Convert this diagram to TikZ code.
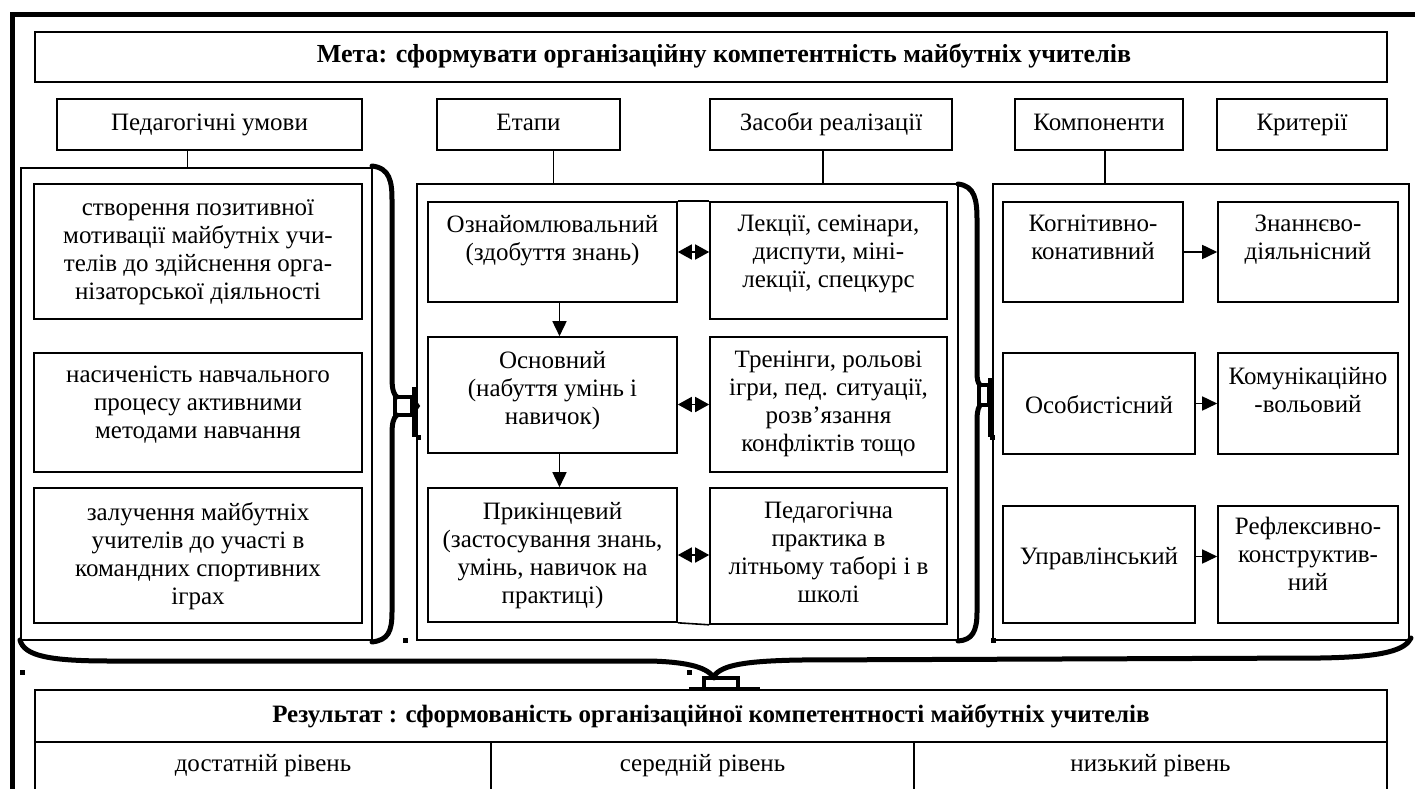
\documentclass[tikz,border=0pt]{standalone}
\usepackage{fontspec}
\setmainfont{Liberation Serif}
\usetikzlibrary{positioning,arrows.meta,fit}

\tikzset{
  box/.style={draw, line width=1.6pt, inner sep=0pt},
  sz/.style 2 args={minimum width=#1, minimum height=#2},
  line/.style={text height=17pt, text depth=5pt},
  grp/.style={draw, line width=1.2pt, inner sep=0pt},
  txt/.style={align=center, inner sep=0pt},
  link/.style={line width=1.6pt},
  arr/.style={-{Triangle[length=15pt,width=14pt]}, line width=1.6pt},
  dbl/.style={{Triangle[length=14pt,width=15pt]}-{Triangle[length=14pt,width=15pt]}, line width=1.6pt},
  brc/.style={line width=5pt, line cap=round},
  dot/.style={fill, minimum size=5pt, inner sep=0pt},
}

\begin{document}
\begin{tikzpicture}[x=1pt, y=-1pt, font=\fontsize{25}{28}\selectfont]
  \useasboundingbox (0,0) rectangle (1415,789);
  % frame
  \draw[line width=5pt] (1420,15) -- (12,15) -- (12,800);

  % goal and headers
  \node[box, sz={1352pt}{50pt}] (meta) at (711,57) {};
  \node[txt, line, xshift=13pt] (metat) at (meta.center) {\fontsize{26}{28}\selectfont\bfseries Мета: сформувати організаційну компетентність майбутніх учителів};
  \node[box, line, sz={305pt}{51pt}] (ped) at (209.5,124.5) {Педагогічні умови};
  \node[box, line, sz={183pt}{51pt}] (etapy) at (528.5,124.5) {Етапи};
  \node[box, line, sz={242pt}{51pt}] (zasoby) at (831,124.5) {Засоби реалізації};
  \node[box, line, sz={168pt}{51pt}] (komp) at (1099,124.5) {Компоненти};
  \node[box, line, sz={170pt}{51pt}] (kryt) at (1302,124.5) {Критерії};

  % groups
  \node[grp, fit={(21,168) (372,640)}] (L) {};
  \node[grp, fit={(417,184) (958,640)}] (M) {};
  \node[grp, fit={(993,184) (1409,640)}] (R) {};

  \draw[link] ([xshift=-22pt]ped.south) -- ([xshift=-22pt]ped.south |- L.north);
  \draw[link] ([xshift=25pt]etapy.south) -- ([xshift=25pt]etapy.south |- M.north);
  \draw[link] ([xshift=-8pt]zasoby.south) -- ([xshift=-8pt]zasoby.south |- M.north);
  \draw[link] ([xshift=6pt]komp.south) -- ([xshift=6pt]komp.south |- R.north);

  % pedagogical conditions
  \node[box, fit={(34,184) (362,319)}] (u1) {};
  \node[box, fit={(34,353) (362,472)}] (u2) {};
  \node[box, fit={(34,488) (362,623)}] (u3) {};
  \node[txt, below=16pt of u1.north] (u1t) {створення позитивної\\мотивації майбутніх учи-\\телів до здійснення орга-\\нізаторської діяльності};
  \node[txt, below=14pt of u2.north] (u2t) {насиченість навчального\\процесу активними\\методами навчання};
  \node[txt, below=15pt of u3.north] (u3t) {залучення майбутніх\\учителів до участі в\\командних спортивних\\іграх};

  % stages and means
  \node[box, fit={(428,202) (677,302)}] (o1) {};
  \node[box, fit={(428,337) (677,453)}] (o2) {};
  \node[box, fit={(428,488) (677,622)}] (o3) {};
  \node[box, fit={(710,202) (947,319)}] (s1) {};
  \node[box, fit={(710,337) (947,472)}] (s2) {};
  \node[box, fit={(710,488) (947,624)}] (s3) {};
  \node[txt, below=14pt of o1.north] (o1t) {Ознайомлювальний\\(здобуття знань)};
  \node[txt, below=15pt of o2.north] (o2t) {Основний\\(набуття умінь і\\навичок)};
  \node[txt, below=15pt of o3.north] (o3t) {Прикінцевий\\(застосування знань,\\умінь, навичок на\\практиці)};
  \node[txt, below=14pt of s1.north] (s1t) {Лекції, семінари,\\диспути, міні-\\лекції, спецкурс};
  \node[txt, below=15pt of s2.north] (s2t) {Тренінги, рольові\\ігри, пед. ситуації,\\розв’язання\\конфліктів тощо};
  \node[txt, below=15pt of s3.north] (s3t) {Педагогічна\\практика в\\літньому таборі і в\\школі};
  \draw[line width=1.6pt] (o1.north east) -- (s1.north west);
  \draw[line width=1.6pt] (o3.south east) -- (s3.south west);

  \draw[arr] ([xshift=7pt]o1.south) -- ([xshift=7pt]o2.north);
  \draw[arr] ([xshift=7pt]o2.south) -- ([xshift=7pt]o3.north);
  \draw[dbl] (o1.east) -- (o1.east -| s1.west);
  \draw[dbl] (s2.west -| o2.east) -- (s2.west);
  \draw[dbl] (o3.east) -- (o3.east -| s3.west);

  % components and criteria
  \node[box, fit={(1003,202) (1183,302)}] (k1) {};
  \node[box, sz={192pt}{101pt}, text height=19pt, text depth=0pt] (k2) at (1099,403.5) {Особистісний};
  \node[box, sz={192pt}{117pt}, text height=12pt, text depth=12pt] (k3) at (1099,564.5) {Управлінський};
  \node[box, fit={(1218,202) (1398,302)}] (c1) {};
  \node[box, fit={(1218,353) (1398,454)}] (c2) {};
  \node[box, fit={(1218,506) (1398,623)}] (c3) {};
  \node[txt, below=14pt of k1.north] (k1t) {Когнітивно-\\конативний};
  \node[txt, below=14pt of c1.north] (c1t) {Знаннєво-\\діяльнісний};
  \node[txt, below=15pt of c2.north] (c2t) {Комунікаційно\\-вольовий};
  \node[txt, below=12pt of c3.north] (c3t) {Рефлексивно-\\конструктив-\\ний};

  \draw[arr] (k1.east) -- (c1.west);
  \draw[arr] (k2.east) -- (c2.west);
  \draw[arr] ([yshift=8pt]k3.east) -- ([yshift=8pt]k3.east -| c3.west);

  % braces
  \draw[brc] (372,166) .. controls (390,168) and (392,182) .. (392,200) -- (392,378) .. controls (392,390) and (394,395) .. (397,397);
  \draw[brc] (397,415) .. controls (393,418) and (392,424) .. (392,435) -- (392,612) .. controls (392,632) and (388,640) .. (372,642);
  \draw[line width=3.5pt] (395,397) rectangle (412,415);
  \draw[line width=4pt] (414,387) -- (414,437);
  \draw[line width=2pt] (414,399) -- (419,406) -- (414,413);

  \draw[brc] (958,184) .. controls (975,186) and (977,200) .. (977,220) -- (977,372) .. controls (977,380) and (978,383) .. (980,385);
  \draw[brc] (980,405) .. controls (977,410) and (977,415) .. (977,425) -- (977,612) .. controls (977,632) and (972,640) .. (958,641);
  \draw[line width=3.5pt] (979,385) rectangle (989,405);
  \draw[line width=4pt] (990,378) -- (990,437);

  \draw[brc] (20,640) .. controls (24,656) and (50,661) .. (110,661) -- (650,661) .. controls (690,662) and (708,668) .. (714,678);
  \draw[brc] (714,676) .. controls (722,665) and (745,661) .. (800,660) -- (1320,658) .. controls (1385,657) and (1405,650) .. (1411,638);
  \draw[line width=3.5pt] (704,678) rectangle (738,689);
  \draw[line width=4pt] (689,689) -- (760,689);

  \node[dot] (d1) at (22,672) {};
  \node[dot] (d2) at (405,640) {};
  \node[dot] (d3) at (689,672) {};
  \node[dot] (d4) at (418,437) {};
  \node[dot] (d5) at (992,437) {};
  \node[dot] (d6) at (993,640) {};

  % result
  \node[box, line, fill=white, sz={1352pt}{52pt}] (res) at (711,716) {\bfseries Результат : сформованість організаційної компетентності майбутніх учителів};
  \node[box, sz={456pt}{50pt}, text height=17pt, text depth=9pt] (lv1) at (263,767) {достатній рівень};
  \node[box, sz={423pt}{50pt}, text height=17pt, text depth=9pt] (lv2) at (702.5,767) {середній рівень};
  \node[box, sz={473pt}{50pt}, text height=17pt, text depth=9pt] (lv3) at (1150.5,767) {низький рівень};
\end{tikzpicture}
\end{document}
